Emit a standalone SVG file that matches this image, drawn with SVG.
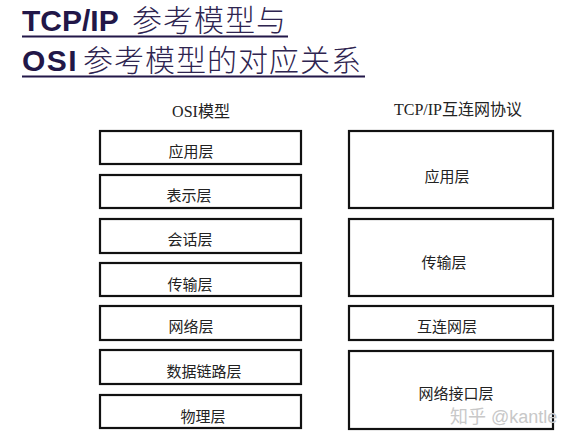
<svg xmlns="http://www.w3.org/2000/svg" width="568" height="443" viewBox="0 0 568 443">
<style>
.title{fill:#221748;font-size:30px}
.lat{font-family:"Liberation Sans",Arial,sans-serif;font-weight:bold}
.cjk{font-family:"Noto Sans CJK SC",sans-serif;font-weight:300;fill:#2e2450}
.ul{stroke:#221748;stroke-width:2}
.box{fill:#fff;stroke:#111;stroke-width:2.2}
.lbl{font-family:"Noto Sans CJK SC",sans-serif;font-size:15px;fill:#222}
.hdr{font-family:"Liberation Serif","Noto Sans CJK SC",serif;font-size:16px;fill:#222}
.wm{font-family:"Liberation Sans","Noto Sans CJK SC",sans-serif;font-size:18px;fill:#c8c8c8}
</style>
<rect width="568" height="443" fill="#fff"/>
<g id="title">
<text class="title" y="31"><tspan class="lat" x="22">TCP/IP</tspan><tspan class="cjk" x="132" letter-spacing="1">参考模型与</tspan></text>
<line class="ul" x1="22" y1="36.5" x2="288" y2="36.5"/>
<text class="title" y="71"><tspan class="lat" x="22" letter-spacing="1.5">OSI</tspan><tspan class="cjk" x="83" letter-spacing="1">参考模型的对应关系</tspan></text>
<line class="ul" x1="22" y1="76.5" x2="365" y2="76.5"/>
</g>
<g id="osi-header"><text class="hdr" x="201" y="117" text-anchor="middle">OSI模型</text></g>
<g id="tcpip-header"><text class="hdr" x="458" y="115" text-anchor="middle">TCP/IP互连网协议</text></g>
<g id="osi-app"><rect class="box" x="100" y="131" width="201" height="33"/><text class="lbl" x="191" y="157" text-anchor="middle">应用层</text></g>
<g id="osi-pres"><rect class="box" x="100" y="175" width="201" height="33"/><text class="lbl" x="189" y="201" text-anchor="middle">表示层</text></g>
<g id="osi-sess"><rect class="box" x="100" y="219" width="201" height="34"/><text class="lbl" x="190" y="245" text-anchor="middle">会话层</text></g>
<g id="osi-trans"><rect class="box" x="100" y="263" width="201" height="33"/><text class="lbl" x="190" y="290" text-anchor="middle">传输层</text></g>
<g id="osi-net"><rect class="box" x="100" y="306" width="201" height="34"/><text class="lbl" x="191" y="332" text-anchor="middle">网络层</text></g>
<g id="osi-link"><rect class="box" x="100" y="350" width="201" height="34"/><text class="lbl" x="204" y="377" text-anchor="middle">数据链路层</text></g>
<g id="osi-phys"><rect class="box" x="100" y="395" width="201" height="33"/><text class="lbl" x="203" y="422" text-anchor="middle">物理层</text></g>
<g id="tcp-app"><rect class="box" x="349" y="131" width="204" height="77"/><text class="lbl" x="447" y="182" text-anchor="middle">应用层</text></g>
<g id="tcp-trans"><rect class="box" x="349" y="219" width="204" height="77"/><text class="lbl" x="444" y="268" text-anchor="middle">传输层</text></g>
<g id="tcp-inet"><rect class="box" x="349" y="306" width="204" height="34"/><text class="lbl" x="447" y="332" text-anchor="middle">互连网层</text></g>
<g id="tcp-netif"><rect class="box" x="349" y="351" width="204" height="78"/><text class="lbl" x="456" y="399" text-anchor="middle">网络接口层</text></g>
<g id="connectors"></g>
<g id="watermark"><text class="wm" x="450" y="423">知乎 @kantle</text></g>
</svg>
